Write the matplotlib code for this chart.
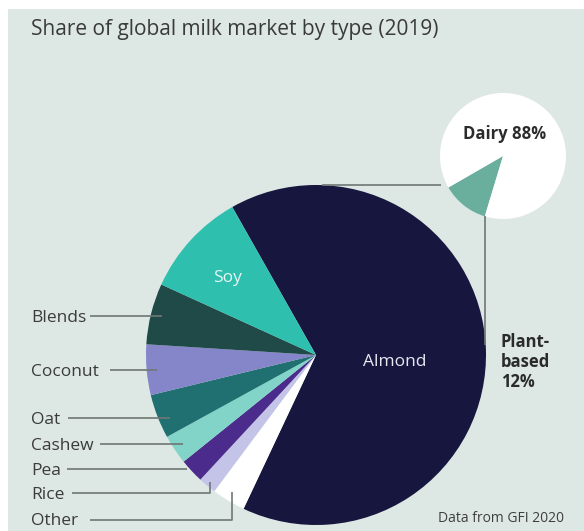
import matplotlib
matplotlib.use('Agg')
import matplotlib.pyplot as plt
from matplotlib.patches import Rectangle

# plant-based milk types, clockwise from the Almond/Soy boundary
types = ['Almond', 'Other', 'Rice', 'Pea', 'Cashew', 'Oat', 'Coconut', 'Blends', 'Soy']
shares = [65.2, 3.2, 1.7, 2.3, 2.8, 4.2, 4.8, 5.8, 10.0]
colors = ['#17163f', '#ffffff', '#c4c4e8', '#4b2c8c', '#82d4c9',
          '#206f71', '#8486c9', '#1f4a48', '#2fbfae']

market = ['Plant-based', 'Dairy']
market_share = [12, 88]

W, H = 584, 531
plt.rcParams['font.family'] = ['Open Sans', 'DejaVu Sans']

fig = plt.figure(figsize=(W / 100, H / 100), dpi=100)
fig.patch.set_facecolor('white')
ax = fig.add_axes([0, 0, 1, 1])


def py(y):
    # pixel row (top-down) -> data y
    return H - y


ax.add_patch(Rectangle((8, 0), W - 8, H - 9, facecolor='#dde7e3', edgecolor='none', zorder=0))

# main plant-based pie
ax.pie(shares, colors=colors, startangle=119.5, counterclock=False,
       center=(316, py(355)), radius=170, frame=True,
       wedgeprops=dict(linewidth=0, zorder=2))

# small dairy vs plant-based pie
ax.pie(market_share, colors=['#6aae9e', '#ffffff'], startangle=210, counterclock=True,
       center=(503, py(156)), radius=63, frame=True,
       wedgeprops=dict(linewidth=0, zorder=2))

ax.set_xlim(0, W)
ax.set_ylim(0, H)
ax.set_aspect('equal')
ax.axis('off')

line_kw = dict(color='#6f7775', lw=1.2, zorder=3, solid_capstyle='butt')

# connectors between the two pies
ax.plot([322, 441], [py(185), py(185)], **line_kw)
ax.plot([485, 485], [py(216), py(345)], **line_kw)

# left labels with leader lines (text nudged ~2px down so it sits on the line)
lab_kw = dict(fontsize=12.5, color='#3b3b3b', va='center', ha='left', zorder=4)
label_rows = [('Blends', 316, 90, 162), ('Coconut', 370, 110, 157),
              ('Oat', 418, 68, 170), ('Cashew', 444, 100, 183),
              ('Pea', 469, 67, 187)]
for name, y, x0, x1 in label_rows:
    ax.text(31, py(y + 2), name, **lab_kw)
    ax.plot([x0, x1], [py(y), py(y)], **line_kw)

ax.text(31, py(495), 'Rice', **lab_kw)
ax.plot([72, 210, 210], [py(493), py(493), py(482)], **line_kw)
ax.text(31, py(521), 'Other', **lab_kw)
ax.plot([90, 232, 232], [py(520), py(520), py(492)], **line_kw)

# labels inside the pies
ax.text(227, py(278), 'Soy', fontsize=12.5, color='#e6f7f4', ha='center', va='center', zorder=4)
ax.text(395, py(362), 'Almond', fontsize=12.5, color='#e8e8f0', ha='center', va='center', zorder=4)
ax.text(505, py(134), 'Dairy 88%', fontsize=12, fontweight='bold', color='#2b2b2b',
        ha='center', va='center', zorder=4)
ax.text(501, py(362), 'Plant-\nbased\n12%', fontsize=12, fontweight='bold', color='#2b2b2b',
        ha='left', va='center', linespacing=1.15, zorder=4)

ax.text(31, py(29), 'Share of global milk market by type (2019)', fontsize=15,
        color='#3a3a3a', ha='left', va='center', zorder=4)
ax.text(564, py(519), 'Data from GFI 2020', fontsize=10, color='#3f3f3f',
        ha='right', va='center', zorder=4)

fig.savefig('out.png', dpi=100, facecolor=fig.get_facecolor())
